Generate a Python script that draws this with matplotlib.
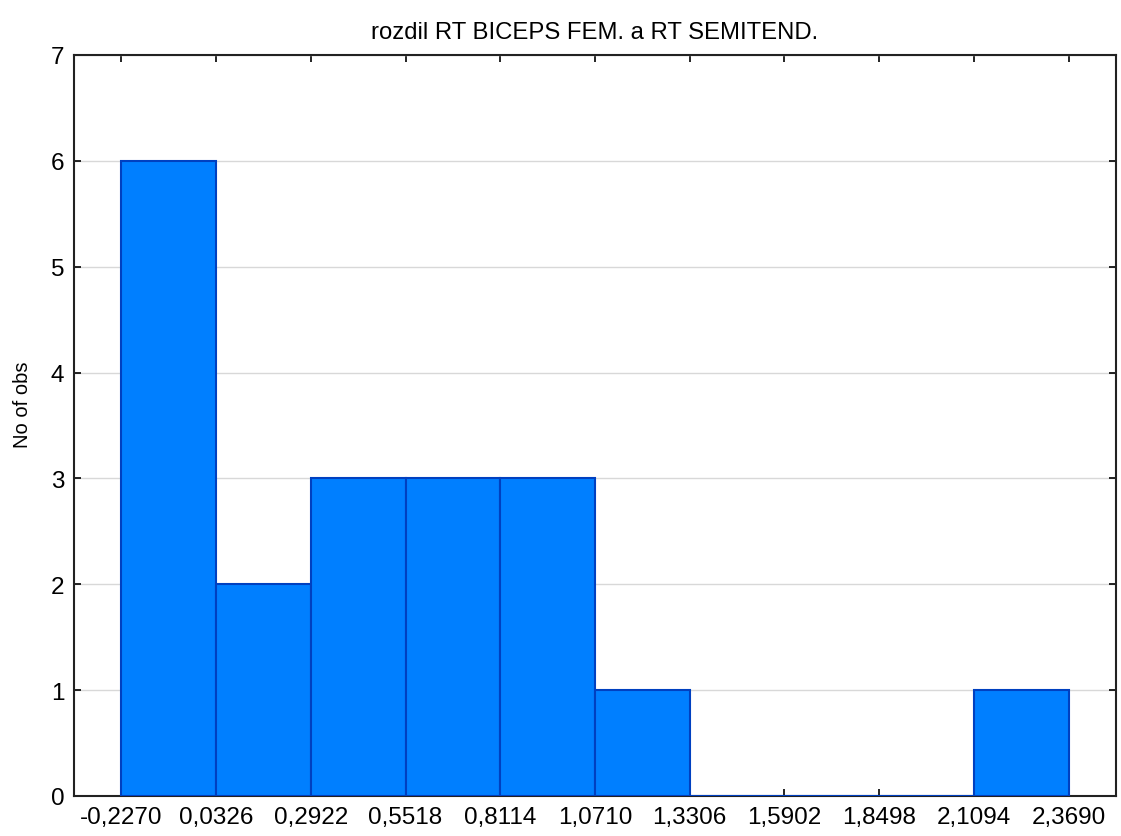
import matplotlib
matplotlib.use("Agg")
import matplotlib.pyplot as plt

# bin edges (also the x tick labels) and counts per bin
bin_edges = [-0.2270, 0.0326, 0.2922, 0.5518, 0.8114, 1.0710,
             1.3306, 1.5902, 1.8498, 2.1094, 2.3690]
counts = [6, 2, 3, 3, 3, 1, 0, 0, 0, 1]

title = "rozdil RT BICEPS FEM. a RT SEMITEND."
ylabel = "No of obs"

plt.rcParams["font.family"] = ["Liberation Sans", "DejaVu Sans"]

fig = plt.figure(figsize=(11.21, 8.37), dpi=100)
ax = fig.add_axes([74 / 1121, 1 - 797 / 837, (1116 - 74) / 1121, (797 - 56) / 837])

widths = [b - a for a, b in zip(bin_edges[:-1], bin_edges[1:])]
ax.bar(bin_edges[:-1], counts, width=widths, align="edge",
       color="#007fff", edgecolor="#0040c0", linewidth=1.5, zorder=3)

half = widths[0] / 2
ax.set_xlim(bin_edges[0] - half, bin_edges[-1] + half)
ax.set_ylim(0, 7)
ax.set_xticks(bin_edges)
ax.set_xticklabels([f"{v:.4f}".replace(".", ",") for v in bin_edges])
ax.set_yticks(range(0, 8))

ax.yaxis.grid(True, color="#d8d8d8", linewidth=1, zorder=0)
ax.tick_params(direction="in", top=True, right=True, length=5, width=1.2,
               labelsize=17.5, pad=7)
for sp in ax.spines.values():
    sp.set_linewidth(1.5)
    sp.set_color("#222222")

ax.set_title(title, fontsize=17.2, pad=12)
ax.set_ylabel(ylabel, fontsize=14.5)
ax.yaxis.set_label_coords(-0.040, 0.529)

plt.savefig("out.png", dpi=100)
